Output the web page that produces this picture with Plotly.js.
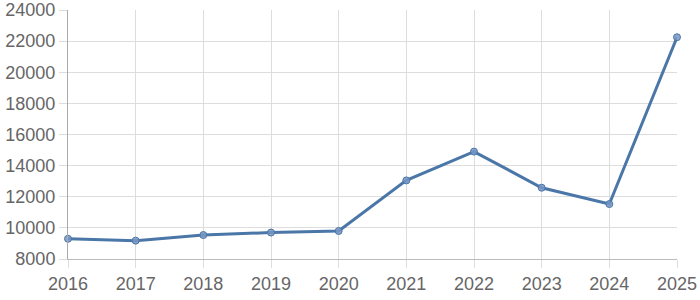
<!DOCTYPE html>
<html>
<head>
<meta charset="utf-8">
<script src="https://cdn.plot.ly/plotly-3.0.1.min.js"></script>
<style>html,body{margin:0;padding:0;background:#fff;}#chart{width:700px;height:300px;}</style>
</head>
<body>
<div id="chart"></div>
<script>
const years = [2016, 2017, 2018, 2019, 2020, 2021, 2022, 2023, 2024, 2025];
const values = [9300, 9180, 9540, 9700, 9800, 13050, 14900, 12580, 11530, 22250];
const yTicks = [8000, 10000, 12000, 14000, 16000, 18000, 20000, 22000, 24000];

const trace = {
  x: years,
  y: values,
  type: 'scatter',
  mode: 'lines+markers',
  cliponaxis: false,
  line: {color: '#4a76a8', width: 3},
  marker: {size: 7, color: 'rgba(120,150,195,0.85)', line: {color: '#4a76a8', width: 1}},
  hoverinfo: 'none'
};

const layout = {
  width: 700, height: 300,
  margin: {l: 68, r: 23, t: 10, b: 41},
  paper_bgcolor: '#fff', plot_bgcolor: '#fff',
  showlegend: false,
  font: {family: 'Liberation Sans, Arial, sans-serif', size: 18, color: '#666'},
  xaxis: {
    range: [2016, 2025], tickvals: years, ticktext: years.map(String),
    showgrid: true, gridcolor: '#dddddd', gridwidth: 1,
    showline: true, linecolor: '#bbbbbb', linewidth: 1,
    ticks: 'outside', ticklen: 8, tickcolor: '#dddddd',
    zeroline: false, tickfont: {size: 18, color: '#666'}
  },
  yaxis: {
    range: [8000, 24000], tickvals: yTicks, ticktext: yTicks.map(String),
    showgrid: true, gridcolor: '#dddddd', gridwidth: 1,
    showline: true, linecolor: '#aaaaaa', linewidth: 1,
    ticks: 'outside', ticklen: 8, tickcolor: '#dddddd',
    zeroline: false, tickfont: {size: 18, color: '#666'}
  }
};

Plotly.newPlot('chart', [trace], layout, {staticPlot: true, displayModeBar: false});
</script>
</body>
</html>
